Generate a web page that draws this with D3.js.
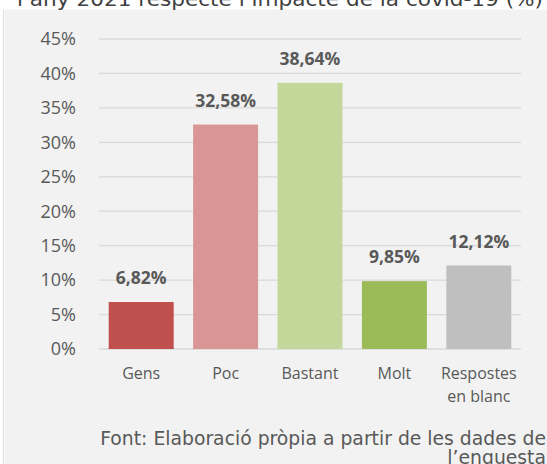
<!DOCTYPE html>
<html>
<head>
<meta charset="utf-8">
<script src="https://cdn.jsdelivr.net/npm/d3@7"></script>
<style>
html,body{margin:0;padding:0;background:#ffffff;}
svg{display:block;}
</style>
</head>
<body>
<svg id="chart" width="547" height="464"></svg>
<script>
const title = "l’any 2021 respecte l’impacte de la covid-19 (%)";
const categories = ["Gens", "Poc", "Bastant", "Molt", "Respostes en blanc"];
const categoryLines = [["Gens"], ["Poc"], ["Bastant"], ["Molt"], ["Respostes", "en blanc"]];
const values = [6.82, 32.58, 38.64, 9.85, 12.12];
const valueLabels = ["6,82%", "32,58%", "38,64%", "9,85%", "12,12%"];
const barColors = ["#c0504d", "#da9694", "#c4d79b", "#9bbb59", "#bfbfbf"];
const yTicks = [0, 5, 10, 15, 20, 25, 30, 35, 40, 45];
const sourceLines = ["Font: Elaboració pròpia a partir de les dades de", "l’enguesta"];

const svg = d3.select("#chart");
const W = 547, H = 464;

// panel
svg.append("rect").attr("x", 0).attr("y", 0).attr("width", W).attr("height", H).attr("fill", "#ffffff");
svg.append("rect").attr("x", 5).attr("y", 9.5).attr("width", W - 5).attr("height", H - 9.5).attr("fill", "#f2f2f2");
svg.append("line").attr("x1", 3.5).attr("x2", 3.5).attr("y1", 9.5).attr("y2", H)
  .attr("stroke", "#e3e3e3").attr("stroke-width", 1.5);

// title (cut off at top)
svg.append("text").attr("x", 17).attr("y", 6)
  .attr("font-family", "'DejaVu Sans', Verdana, sans-serif").attr("font-size", 19)
  .attr("textLength", 526).attr("lengthAdjust", "spacingAndGlyphs")
  .attr("fill", "#404040").text(title);

const x = d3.scaleBand().domain(categories).range([99, 521]).paddingInner(0.23).paddingOuter(0.115);
const y = d3.scaleLinear().domain([0, 45]).range([349, 39]);

// gridlines
svg.append("g").selectAll("line").data(yTicks).join("line")
  .attr("x1", 99).attr("x2", 521)
  .attr("y1", d => y(d)).attr("y2", d => y(d))
  .attr("stroke", "#d9d9d9").attr("stroke-width", 1.3);

// y tick labels
svg.append("g").selectAll("text").data(yTicks).join("text")
  .attr("x", 76).attr("y", d => y(d)).attr("dy", "0.35em")
  .attr("text-anchor", "end")
  .attr("font-family", "'Open Sans', sans-serif").attr("font-size", 18)
  .attr("fill", "#595959").text(d => d + "%");

// bars
svg.append("g").selectAll("rect").data(values).join("rect")
  .attr("x", (d, i) => x(categories[i]))
  .attr("y", d => y(d))
  .attr("width", x.bandwidth())
  .attr("height", d => y(0) - y(d))
  .attr("fill", (d, i) => barColors[i]);

// value labels
svg.append("g").selectAll("text").data(values).join("text")
  .attr("x", (d, i) => x(categories[i]) + x.bandwidth() / 2)
  .attr("y", d => y(d) - 18)
  .attr("text-anchor", "middle")
  .attr("font-family", "'Open Sans', sans-serif").attr("font-size", 17.5).attr("font-weight", "bold")
  .attr("fill", "#595959").text((d, i) => valueLabels[i]);

// category labels
const cat = svg.append("g").selectAll("text").data(categories).join("text")
  .attr("x", d => x(d) + x.bandwidth() / 2)
  .attr("y", 379)
  .attr("text-anchor", "middle")
  .attr("font-family", "'Open Sans', sans-serif").attr("font-size", 16)
  .attr("fill", "#595959");
cat.each(function(d, i) {
  const t = d3.select(this);
  categoryLines[i].forEach((ln, j) => {
    t.append("tspan").attr("x", x(d) + x.bandwidth() / 2).attr("dy", j === 0 ? 0 : 23).text(ln);
  });
});

// source
svg.append("g").selectAll("text").data(sourceLines).join("text")
  .attr("x", 546).attr("y", (d, i) => 445 + i * 19)
  .attr("text-anchor", "end")
  .attr("font-family", "'DejaVu Sans', Verdana, sans-serif").attr("font-size", 18.8)
  .attr("fill", "#595959").text(d => d);
</script>
</body>
</html>
